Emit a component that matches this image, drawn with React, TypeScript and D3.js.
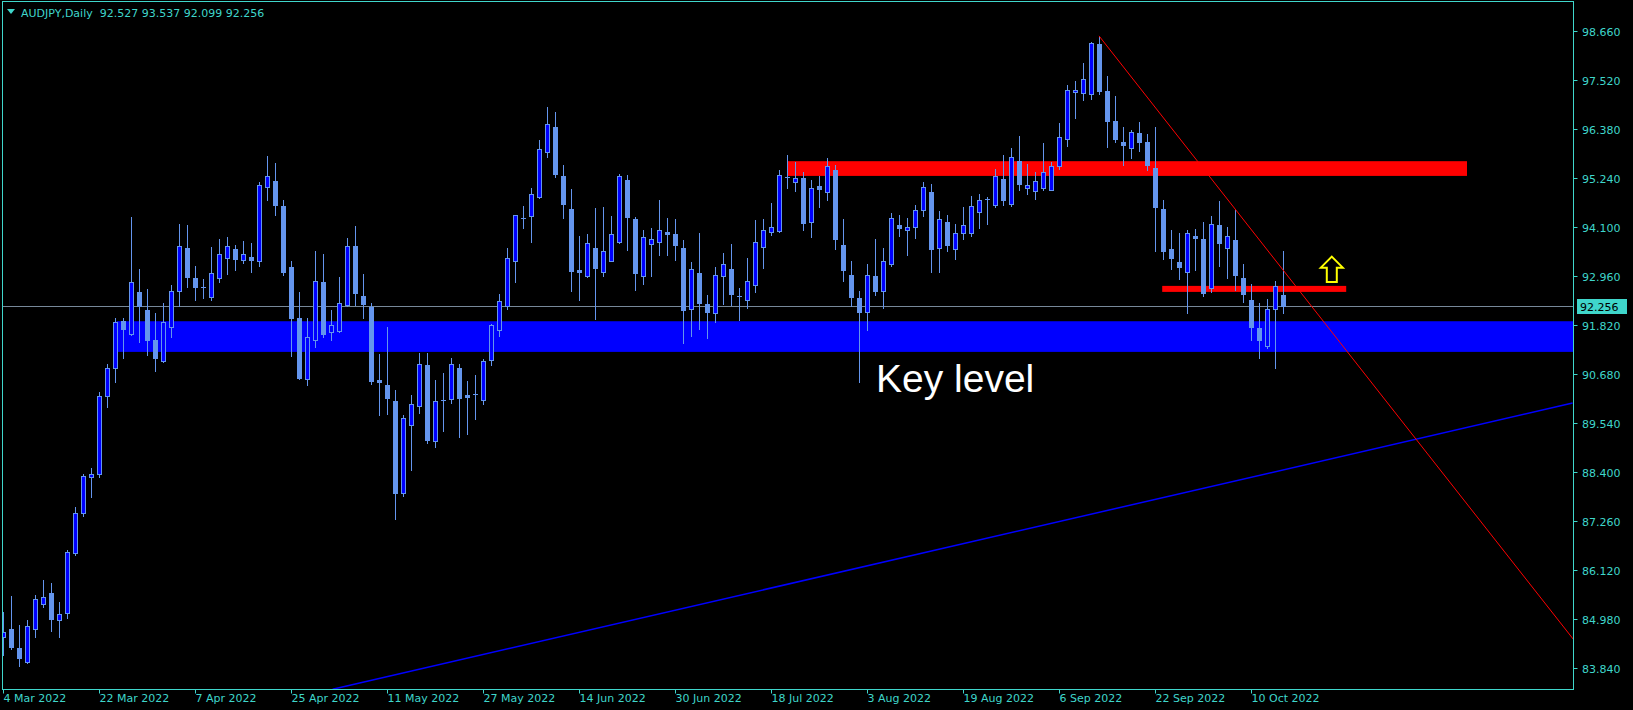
import React from "react";
import * as d3 from "d3";

const opens = [84.55,84.73,84.29,83.97,84.75,85.31,85.57,84.96,85.10,86.52,
87.45,88.27,88.34,90.17,90.81,91.92,91.62,92.58,92.16,91.46,
90.98,91.78,92.60,93.60,92.91,92.70,92.47,92.92,93.38,93.58,
93.33,93.40,93.30,95.04,95.16,94.60,93.16,91.99,90.56,91.46,
92.81,91.66,91.69,92.29,93.65,92.49,92.23,90.53,90.43,90.04,
87.91,89.50,89.93,90.88,89.11,90.08,90.10,90.81,90.18,90.20,
90.07,91.01,91.70,92.26,93.32,94.31,94.35,94.80,95.84,96.44,
95.28,94.53,93.09,92.97,93.60,93.06,93.32,93.76,95.19,94.28,
92.97,93.71,93.76,93.98,93.93,93.60,92.20,93.04,92.30,92.09,
92.97,93.13,92.49,92.39,92.76,93.64,93.99,94.01,95.26,95.15,
95.25,94.22,95.05,94.92,95.42,93.69,92.99,92.44,92.13,92.97,
92.60,93.25,94.14,94.02,94.11,94.49,94.91,93.60,94.21,93.58,
93.95,93.97,94.44,94.76,94.62,95.21,94.64,95.63,95.02,94.95,
95.02,94.97,95.51,96.14,97.25,97.21,97.19,98.36,97.26,96.56,
96.09,95.93,96.30,96.09,95.47,94.51,93.58,93.28,93.06,93.89,
93.83,92.67,94.14,93.62,93.79,92.92,92.41,91.74,91.33,92.18,
92.527];
const highs = [85.14,85.50,84.83,84.96,85.53,85.88,85.80,85.36,86.59,87.57,
88.36,88.48,90.25,90.92,91.98,91.99,94.34,93.12,92.65,92.09,
92.32,92.75,94.17,94.14,93.19,92.89,93.63,93.82,93.86,93.67,
93.77,93.72,95.14,95.76,95.59,94.72,93.30,92.58,91.97,93.54,
93.47,92.16,92.93,93.84,94.12,93.00,92.32,91.15,91.77,90.30,
89.72,90.18,91.16,91.16,90.53,90.69,91.05,90.90,90.51,90.65,
91.02,91.85,92.54,93.60,94.38,94.59,95.00,96.12,96.89,96.77,
95.54,94.98,93.89,93.93,94.54,94.56,94.35,95.33,95.31,94.33,
94.03,94.07,94.72,94.31,94.28,93.79,93.28,93.97,92.51,93.16,
93.49,93.70,92.68,93.37,94.26,94.28,94.66,95.42,95.77,95.61,
95.39,95.19,95.29,95.70,95.54,94.28,93.30,92.61,93.23,93.82,
93.62,94.43,94.39,94.30,94.61,95.14,95.10,94.47,94.38,94.18,
94.56,94.83,94.87,94.79,95.45,95.77,95.94,96.22,95.56,95.38,
96.05,95.61,96.52,97.40,97.50,97.92,98.40,98.55,97.61,97.15,
96.44,96.36,96.54,96.26,96.42,94.72,94.03,93.96,94.03,94.05,
94.21,94.35,94.70,94.09,94.53,93.23,92.77,92.32,92.42,92.84,
93.537];
const lows = [84.13,84.28,83.87,83.95,84.55,85.24,84.70,84.55,85.00,86.47,
87.38,87.82,88.28,89.91,90.49,91.05,91.58,91.43,91.12,90.75,
90.96,91.54,92.26,92.71,92.40,92.45,92.40,92.82,93.01,93.10,
93.26,93.06,93.19,94.73,94.38,92.99,91.10,90.56,90.42,91.31,
91.54,91.46,91.66,92.26,92.29,91.98,90.44,89.72,89.75,87.30,
87.84,88.44,89.77,89.07,88.98,89.35,90.00,89.21,89.28,89.62,
89.98,90.89,91.56,92.20,92.82,94.08,93.75,94.78,95.73,95.27,
94.31,92.61,92.40,92.94,91.96,92.96,93.31,93.72,93.56,92.63,
92.77,92.96,93.44,93.44,93.33,91.40,91.56,91.72,91.52,91.89,
92.30,92.29,91.94,92.22,92.59,93.15,93.92,93.99,95.01,94.94,
94.03,93.87,94.57,94.72,93.58,92.85,92.26,90.49,91.70,92.52,
92.22,93.19,93.89,93.44,93.85,94.35,93.06,93.06,93.54,93.35,
93.82,93.89,94.08,94.17,94.57,94.62,94.59,94.96,94.87,94.76,
94.97,94.96,95.45,95.99,96.64,97.06,97.09,97.19,95.97,96.08,
95.55,95.71,95.87,95.43,93.54,93.36,93.13,92.89,92.10,93.10,
92.50,92.59,93.19,92.92,92.63,92.36,91.46,91.05,91.28,90.82,
92.099];
const closes = [84.66,84.32,84.07,84.81,85.43,85.49,84.97,85.09,86.53,87.45,
88.31,88.34,90.17,90.81,91.89,91.73,92.81,92.26,91.48,91.05,
91.88,92.60,93.65,92.94,92.71,92.69,93.02,93.46,93.65,93.36,
93.46,93.33,95.07,95.28,94.62,93.06,91.98,90.58,91.53,92.85,
91.61,91.81,92.32,93.65,92.57,92.31,90.52,90.49,90.12,87.91,
89.66,89.97,90.92,89.14,90.06,90.05,90.90,90.12,90.15,90.21,
90.99,91.81,92.37,93.39,94.37,94.30,94.86,95.91,96.51,95.34,
94.64,93.08,93.06,93.72,93.15,93.55,93.93,95.28,94.34,93.03,
93.86,93.81,94.03,93.94,93.68,92.17,93.13,92.33,92.12,92.99,
93.23,92.54,92.46,92.85,93.74,94.04,94.11,95.30,95.26,95.25,
94.20,95.02,94.99,95.53,93.81,93.09,92.46,92.11,92.99,92.60,
93.32,94.30,94.08,94.09,94.49,95.04,93.59,94.28,93.68,93.97,
94.14,94.58,94.74,94.73,95.28,94.73,95.72,95.10,95.07,95.18,
95.39,95.53,96.19,97.30,97.29,97.54,98.39,97.26,96.57,96.15,
96.01,96.32,96.08,95.55,94.57,93.54,93.38,93.17,93.97,93.85,
92.57,94.18,93.73,93.90,92.99,92.54,91.77,91.47,92.18,92.72,
92.256];

const priceTicks = [98.66, 97.52, 96.38, 95.24, 94.1, 92.96, 91.82, 90.68, 89.54, 88.4, 87.26, 86.12, 84.98, 83.84];
const dateTickBars = [0, 12, 24, 36, 48, 60, 72, 84, 96, 108, 120, 132, 144, 156];
const dateTickLabels = ["4 Mar 2022", "22 Mar 2022", "7 Apr 2022", "25 Apr 2022", "11 May 2022", "27 May 2022", "14 Jun 2022", "30 Jun 2022", "18 Jul 2022", "3 Aug 2022", "19 Aug 2022", "6 Sep 2022", "22 Sep 2022", "10 Oct 2022"];

const headerLabel = "AUDJPY,Daily  92.527 93.537 92.099 92.256";
const lastPrice = 92.256;

// zones: [barFrom, barTo, priceTop, priceBottom]
const keyZone = [14.2, 200, 91.906, 91.192];
const resistanceZone = [98.0, 183.0, 95.633, 95.29];
const supportZone = [144.9, 167.9, 92.729, 92.589];
// trend lines: [bar1, price1, bar2, price2]
const redTrend = [137, 98.551, 196.5, 84.45];
const blueTrend = [41.2, 83.337, 196.2, 90.0];
const arrowAt = [166.1, 93.41, 92.822];
const keyLabel = "Key level";

const W = 1633, H = 710;
const L = 2.5, R = 1573.5, T = 1.5, B = 689.5;
const AX = "#3fd6cb";
const UP = "#6495ED";

export default function App() {
  const x = d3.scaleLinear().domain([0, 160]).range([3, 1283]);
  const y = d3.scaleLinear().domain([83.84, 98.66]).range([667.6, 31.2]);
  const font = "'Liberation Sans', Arial, sans-serif";
  const uiFont = "'DejaVu Sans', Verdana, sans-serif";

  const candles = opens.map((o, i) => {
    const c = closes[i];
    const cx = Math.round(x(i)) + 0.5;
    const yh = Math.round(y(highs[i]));
    const yl = Math.round(y(lows[i]));
    const yt = Math.round(y(Math.max(o, c)));
    const yb = Math.round(y(Math.min(o, c)));
    const bull = c > o;
    const bh = Math.max(1, yb - yt);
    return (
      <g key={i}>
        <line x1={cx} x2={cx} y1={yh} y2={yl + 1} stroke={UP} strokeWidth={1} />
        {bh <= 1 ? (
          <rect x={cx - 2.5} y={yt} width={5} height={1} fill={UP} />
        ) : bull ? (
          <rect x={cx - 2} y={yt + 0.5} width={4} height={bh} fill="#0000FF" stroke={UP} strokeWidth={1} />
        ) : (
          <rect x={cx - 2.5} y={yt} width={5} height={bh + 1} fill={UP} />
        )}
      </g>
    );
  });

  const zone = (z: number[], color: string) => {
    const x1 = x(z[0]);
    const x2 = Math.min(x(z[1]), R);
    return <rect x={x1} y={y(z[2])} width={x2 - x1} height={y(z[3]) - y(z[2])} fill={color} />;
  };

  const ax = x(arrowAt[0]);
  const ayTop = y(arrowAt[1]);
  const ayBot = y(arrowAt[2]);
  const headBase = ayTop + 11;
  const arrowPath = `M${ax},${ayTop} L${ax + 11},${headBase} L${ax + 5},${headBase} L${ax + 5},${ayBot} L${ax - 5},${ayBot} L${ax - 5},${headBase} L${ax - 11},${headBase} Z`;

  const yl = Math.round(y(lastPrice)) + 0.5;

  return (
    <svg width={W} height={H} style={{ position: "absolute", left: 0, top: 0, background: "#000" }}>
      <rect x={0} y={0} width={W} height={H} fill="#000" />
      <defs>
        <clipPath id="plot">
          <rect x={L} y={T} width={R - L} height={B - T} />
        </clipPath>
      </defs>
      <g clipPath="url(#plot)">
        {zone(keyZone, "#0000FF")}
        {zone(resistanceZone, "#FF0000")}
        {zone(supportZone, "#FF0000")}
        <line x1={L} x2={R} y1={yl} y2={yl} stroke="#778899" strokeWidth={1} />
        <line x1={x(blueTrend[0])} y1={y(blueTrend[1])} x2={x(blueTrend[2])} y2={y(blueTrend[3])} stroke="#0000FF" strokeWidth={1.5} />
        {candles}
        <line x1={x(redTrend[0])} y1={y(redTrend[1])} x2={x(redTrend[2])} y2={y(redTrend[3])} stroke="#FF0000" strokeWidth={1} />
        <path d={arrowPath} fill="none" stroke="#FFFF00" strokeWidth={2} strokeLinejoin="miter" />
        <text x={876} y={392} fill="#fff" fontFamily={font} fontSize={39}>{keyLabel}</text>
      </g>
      {/* frame */}
      <rect x={L} y={T} width={R - L} height={B - T} fill="none" stroke={AX} strokeWidth={1} />
      {/* header */}
      <path d="M7,9 L15,9 L11,14 Z" fill={AX} />
      <text x={21} y={17} fill={AX} fontFamily={uiFont} fontSize={11} style={{ whiteSpace: "pre" }}>{headerLabel}</text>
      {/* price axis */}
      {priceTicks.map((p, i) => {
        const yy = Math.round(y(p)) + 0.5;
        return (
          <g key={i}>
            <line x1={R} x2={R + 4} y1={yy} y2={yy} stroke={AX} />
            <text x={1582} y={yy + 4} fill={AX} fontFamily={uiFont} fontSize={11}>{p.toFixed(3)}</text>
          </g>
        );
      })}
      <rect x={1577} y={yl - 7.5} width={50} height={15} fill={AX} />
      <text x={1580} y={yl + 4} fill="#000" fontFamily={uiFont} fontSize={11}>{lastPrice.toFixed(3)}</text>
      {/* date axis */}
      {dateTickBars.map((b, i) => {
        const xx = Math.round(x(b)) + 0.5;
        return (
          <g key={i}>
            <line x1={xx} x2={xx} y1={B} y2={B + 4} stroke={AX} />
            <text x={xx} y={702} fill={AX} fontFamily={uiFont} fontSize={11}>{dateTickLabels[i]}</text>
          </g>
        );
      })}
    </svg>
  );
}
